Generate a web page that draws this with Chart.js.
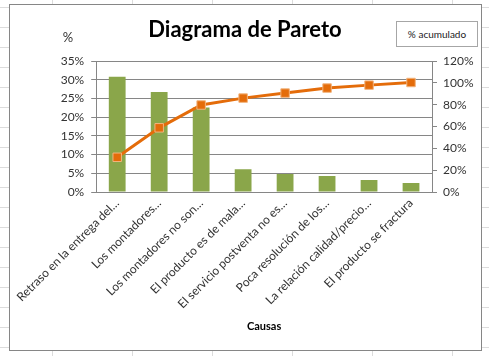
<!DOCTYPE html>
<html>
<head>
<meta charset="utf-8">
<script src="https://cdn.jsdelivr.net/npm/chart.js@4/dist/chart.umd.min.js"></script>
<style>
  html, body { margin: 0; padding: 0; }
  body {
    width: 489px; height: 356px; overflow: hidden; position: relative;
    background-color: #fff;
    background-image: linear-gradient(to right, #dcdcdc 1px, transparent 1px),
                      linear-gradient(to bottom, #dcdcdc 1px, transparent 1px);
    background-size: 80px 20px;
    background-position: 52px 7px;
  }
  #frame {
    position: absolute; left: 9px; top: 4px; width: 471px; height: 345px;
    border: 1px solid #868686; background: #fff;
  }
  #chart { display: block; }
  #legend {
    position: absolute; left: 386px; top: 16px; width: 80px; height: 24px;
    border: 1px solid #a6a6a6; background: #fff;
    font-family: Lato, sans-serif; font-size: 10px; color: #222;
    display: flex; align-items: center; justify-content: center;
  }
</style>
</head>
<body>
<div id="frame">
  <canvas id="chart" width="471" height="345"></canvas>
  <div id="legend">% acumulado</div>
</div>
<script>
const categories = [
  "Retraso en la entrega del…",
  "Los montadores…",
  "Los montadores no son…",
  "El producto es de mala…",
  "El servicio postventa no es…",
  "Poca resolución de los…",
  "La relación calidad/precio…",
  "El producto se fractura"
];
const percentValues = [30.8, 26.7, 22.6, 6.1, 4.8, 4.3, 3.2, 2.4];
const cumulativeValues = [31.8, 58.8, 79.7, 86.0, 90.6, 95.2, 97.9, 100.3];
const leftTicks = [0, 5, 10, 15, 20, 25, 30, 35];
const rightTicks = [0, 20, 40, 60, 80, 100, 120];

const FONT = "Lato, 'Open Sans', sans-serif";
const GRID = "#868686";
const TEXT = "#333333";

const textPlugin = {
  id: 'texts',
  afterDraw(chart) {
    const ctx = chart.ctx;
    ctx.save();
    ctx.fillStyle = "#000";
    ctx.textAlign = "center";
    ctx.textBaseline = "middle";
    ctx.font = "bold 22px " + FONT;
    ctx.fillText("Diagrama de Pareto", 235, 25);
    ctx.font = "13px " + FONT;
    ctx.fillStyle = TEXT;
    ctx.fillText("%", 58, 33);
    ctx.restore();
  }
};

new Chart(document.getElementById('chart'), {
  data: {
    labels: categories,
    datasets: [
      {
        type: 'line',
        label: '% acumulado',
        data: cumulativeValues,
        yAxisID: 'y2',
        order: 0,
        borderColor: '#E46C0A',
        borderWidth: 3,
        tension: 0,
        pointStyle: 'rect',
        pointRadius: 6,
        pointBackgroundColor: '#E46C0A',
        pointBorderColor: '#F2B47E',
        pointBorderWidth: 1
      },
      {
        type: 'bar',
        label: '%',
        data: percentValues,
        yAxisID: 'y',
        order: 1,
        backgroundColor: '#8AA64A',
        barPercentage: 0.4,
        categoryPercentage: 1.0
      }
    ]
  },
  options: {
    responsive: false,
    animation: false,
    layout: { padding: { left: 0, right: 0, top: 56, bottom: 17 } },
    plugins: {
      legend: { display: false },
      title: { display: false },
      tooltip: { enabled: false }
    },
    scales: {
      x: {
        position: 'bottom',
        grid: { display: true, drawOnChartArea: false, drawTicks: false, color: GRID },
        border: { display: true, color: GRID, width: 1 },
        ticks: {
          autoSkip: false, maxRotation: 45, minRotation: 45, padding: 4,
          color: TEXT, font: { family: FONT, size: 12 }
        },
        title: {
          display: true, text: 'Causas', color: '#000',
          font: { family: FONT, size: 11, weight: 'bold' }, padding: { top: 4, bottom: 0 }
        },
        afterFit(scale) { scale.height = 141; }
      },
      y: {
        position: 'left',
        min: 0, max: 35,
        afterBuildTicks(scale) { scale.ticks = leftTicks.map(v => ({ value: v })); },
        grid: { color: GRID, tickLength: 5, drawTicks: true },
        border: { display: true, color: GRID, width: 1 },
        ticks: {
          padding: 7, color: TEXT, font: { family: FONT, size: 12 },
          callback: v => v + '%'
        },
        afterFit(scale) { scale.width = 80; }
      },
      y2: {
        position: 'right',
        min: 0, max: 120,
        afterBuildTicks(scale) { scale.ticks = rightTicks.map(v => ({ value: v })); },
        grid: { drawOnChartArea: false, color: GRID, tickLength: 5, drawTicks: true },
        border: { display: true, color: GRID, width: 1 },
        ticks: {
          padding: 6, color: TEXT, font: { family: FONT, size: 12 },
          callback: v => v + '%'
        },
        afterFit(scale) { scale.width = 49; }
      }
    }
  },
  plugins: [textPlugin]
});
</script>
</body>
</html>
